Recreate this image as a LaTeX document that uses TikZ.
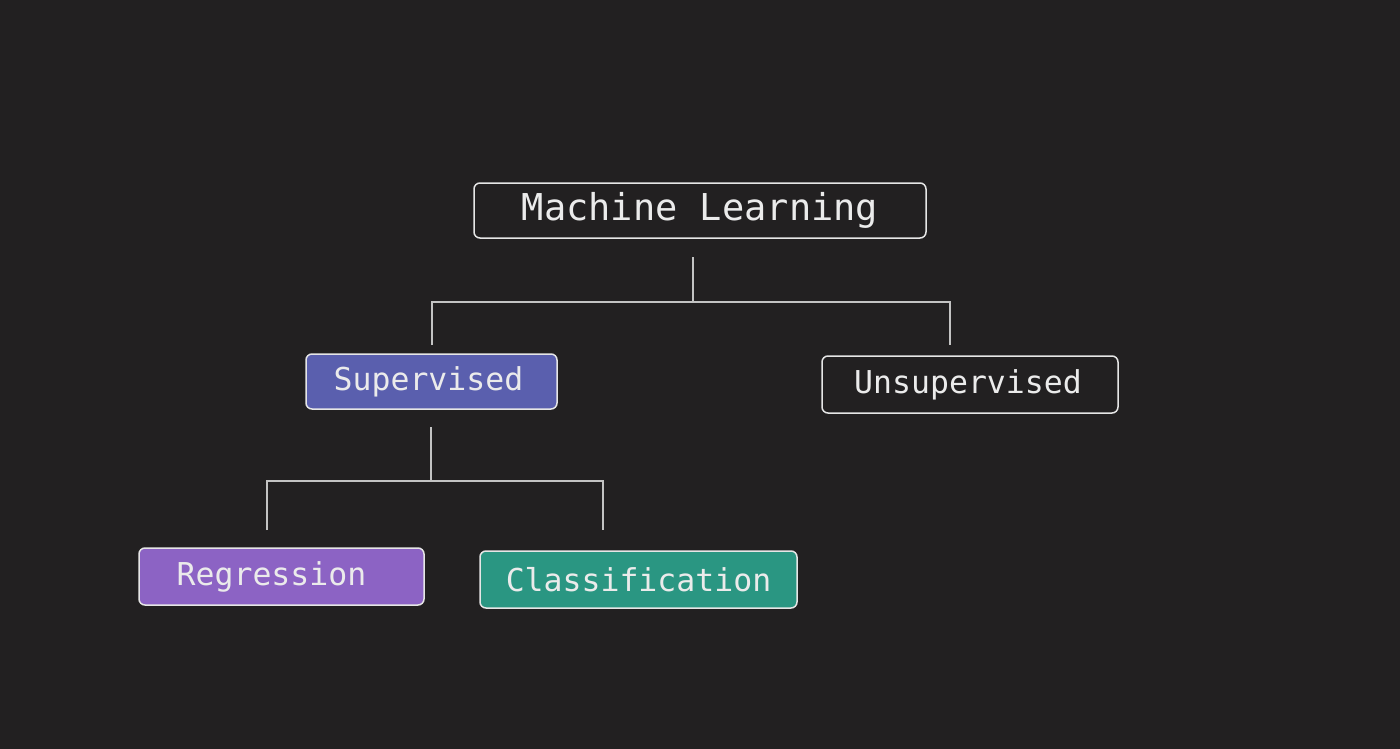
\documentclass[tikz,border=0pt]{standalone}
\usepackage{fontspec}
\setmonofont{DejaVu Sans Mono}
\definecolor{bg}{HTML}{222021}
\definecolor{linec}{HTML}{E6E6E6}
\definecolor{supc}{HTML}{5A5FAE}
\definecolor{regc}{HTML}{8C63C4}
\definecolor{clac}{HTML}{2A9682}
\tikzset{
  box/.style={draw=linec, line width=1.5pt, rounded corners=6pt, inner sep=0pt,
    text=white!92!black, font=\ttfamily\fontsize{31.5}{36}\selectfont},
  bigbox/.style={box, font=\ttfamily\fontsize{37}{42}\selectfont},
  conn/.style={draw=linec!85!black, line width=1.3pt},
}
\begin{document}
\begin{tikzpicture}[x=1pt,y=-1pt]
\fill[bg] (0,0) rectangle (1400,749);
\useasboundingbox (0,0) rectangle (1400,749);
\node[bigbox, minimum width=452pt, minimum height=55pt] (ml) at (700,210.5) {Machine Learning};
\node[box, fill=supc, minimum width=251pt, minimum height=55pt] (sup) at (431.5,381.5) {Supervised\hspace*{6pt}};
\node[box, minimum width=296pt, minimum height=57pt] (uns) at (970,384.5) {Unsupervised\hspace*{4pt}};
\node[box, fill=regc, minimum width=285pt, minimum height=57pt] (reg) at (281.5,576.5) {Regression\hspace*{20pt}};
\node[box, fill=clac, minimum width=317pt, minimum height=57pt] (cla) at (638.5,579.5) {Classification};
% connectors
\coordinate (mlb) at (693,257);
\coordinate (mlj) at (693,302);
\coordinate (supt) at (432,345);
\coordinate (unst) at (950,345);
\draw[conn] (mlb) -- (mlj);
\draw[conn] (supt) |- (mlj) -| (unst);
\coordinate (supb) at (431,427);
\coordinate (supj) at (431,481);
\coordinate (regt) at (267,530);
\coordinate (clat) at (603,530);
\draw[conn] (supb) -- (supj);
\draw[conn] (regt) |- (supj) -| (clat);
\end{tikzpicture}
\end{document}
